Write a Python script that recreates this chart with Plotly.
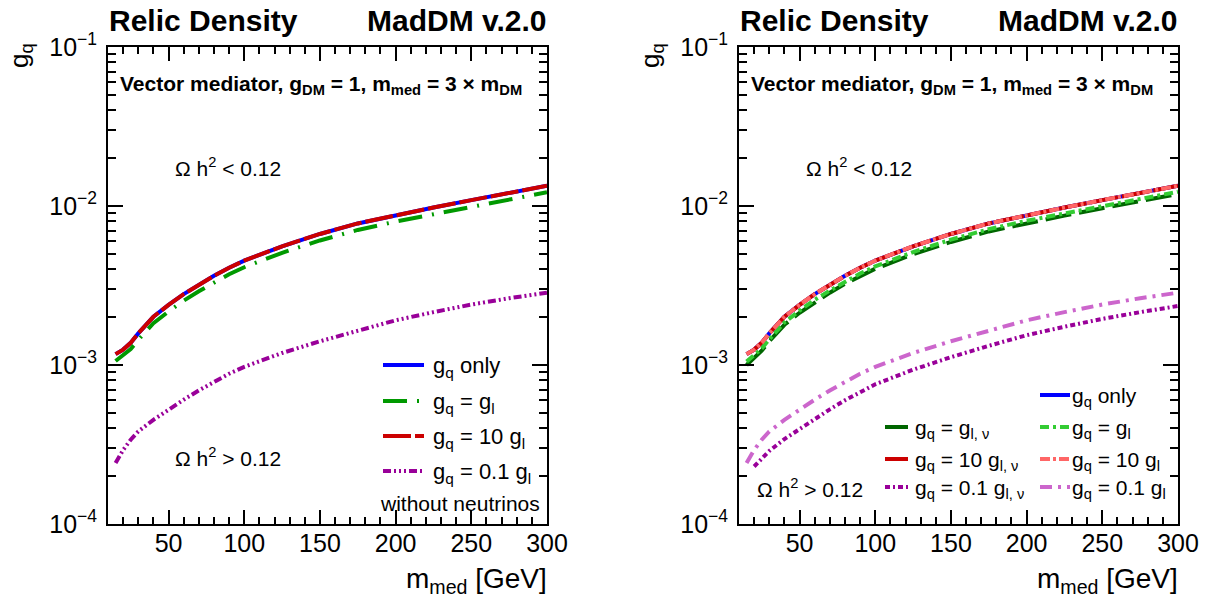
import plotly.graph_objects as go

# ---------------- data ----------------
m_med = [15, 20, 25, 30, 40, 50, 60, 70, 80, 90, 100, 125, 150, 175, 200, 225, 250, 275, 300]

gq_only = [1.17e-3, 1.25e-3, 1.38e-3, 1.58e-3, 2.01e-3, 2.39e-3, 2.79e-3, 3.20e-3, 3.64e-3, 4.09e-3,
           4.53e-3, 5.58e-3, 6.67e-3, 7.77e-3, 8.77e-3, 9.78e-3, 1.089e-2, 1.21e-2, 1.34e-2]
# left panel (without neutrinos)
gq_eq_gl_left = [1.06e-3, 1.15e-3, 1.26e-3, 1.44e-3, 1.83e-3, 2.17e-3, 2.54e-3, 2.91e-3, 3.31e-3, 3.72e-3,
                 4.12e-3, 5.08e-3, 6.07e-3, 7.07e-3, 7.98e-3, 8.90e-3, 9.91e-3, 1.10e-2, 1.22e-2]
gq_10gl = [1.17e-3, 1.25e-3, 1.38e-3, 1.58e-3, 2.01e-3, 2.39e-3, 2.79e-3, 3.20e-3, 3.64e-3, 4.09e-3,
           4.53e-3, 5.58e-3, 6.67e-3, 7.77e-3, 8.77e-3, 9.78e-3, 1.089e-2, 1.21e-2, 1.34e-2]
gq_01gl = [2.42e-4, 2.92e-4, 3.39e-4, 3.82e-4, 4.52e-4, 5.25e-4, 6.05e-4, 6.92e-4, 7.85e-4, 8.81e-4,
           9.73e-4, 1.19e-3, 1.41e-3, 1.65e-3, 1.91e-3, 2.15e-3, 2.40e-3, 2.63e-3, 2.85e-3]
# right panel
gq_eq_gl_right = [1.05e-3, 1.15e-3, 1.27e-3, 1.45e-3, 1.85e-3, 2.20e-3, 2.57e-3, 2.94e-3, 3.35e-3, 3.76e-3,
                  4.17e-3, 5.13e-3, 6.14e-3, 7.15e-3, 8.07e-3, 9.00e-3, 1.00e-2, 1.11e-2, 1.23e-2]
gq_eq_glnu = [1.00e-3, 1.11e-3, 1.23e-3, 1.41e-3, 1.79e-3, 2.13e-3, 2.48e-3, 2.85e-3, 3.24e-3, 3.64e-3,
              4.03e-3, 4.97e-3, 5.94e-3, 6.92e-3, 7.81e-3, 8.70e-3, 9.69e-3, 1.077e-2, 1.19e-2]
gq_10glnu = [1.17e-3, 1.25e-3, 1.38e-3, 1.58e-3, 2.01e-3, 2.39e-3, 2.79e-3, 3.20e-3, 3.64e-3, 4.09e-3,
             4.53e-3, 5.58e-3, 6.67e-3, 7.77e-3, 8.77e-3, 9.78e-3, 1.089e-2, 1.21e-2, 1.34e-2]
m_med_01glnu = [20, 25, 30, 40, 50, 60, 70, 80, 90, 100, 125, 150, 175, 200, 225, 250, 275, 300]
gq_01glnu = [2.30e-4, 2.58e-4, 2.88e-4, 3.42e-4, 3.97e-4, 4.58e-4, 5.26e-4, 6.00e-4, 6.78e-4,
             7.56e-4, 9.35e-4, 1.12e-3, 1.32e-3, 1.54e-3, 1.74e-3, 1.95e-3, 2.15e-3, 2.35e-3]

x_major = [50, 100, 150, 200, 250, 300]
x_minor = [20, 30, 40, 60, 70, 80, 90, 110, 120, 130, 140, 160, 170, 180, 190,
           210, 220, 230, 240, 260, 270, 280, 290]
y_major = [1e-4, 1e-3, 1e-2, 1e-1]
y_major_text = ["10<sup>\u22124</sup>", "10<sup>\u22123</sup>", "10<sup>\u22122</sup>", "10<sup>\u22121</sup>"]
y_minor = [k * 10.0 ** e for e in (-4, -3, -2) for k in range(2, 10)]

W, H = 1214, 603
FONT = "Liberation Sans, Arial, Helvetica, sans-serif"


def px(x):
    return x / W


def py(y):
    return 1 - y / H


fig = go.Figure()

# ---------------- left panel ----------------
left = [
    ("g<sub>q</sub> only", gq_only, m_med, "#0000FF", "solid"),
    ("g<sub>q</sub> = g<sub>l</sub>", gq_eq_gl_left, m_med, "#009900", "24px,10px,2px,10px"),
    ("g<sub>q</sub> = 10 g<sub>l</sub>", gq_10gl, m_med, "#CC0000", "28px,4px"),
    ("g<sub>q</sub> = 0.1 g<sub>l</sub>", gq_01gl, m_med, "#990099", "8px,3px,2px,3px,2px,3px,2px,3px"),
]
for name, yv, xv, col, dash in left:
    fig.add_trace(go.Scatter(x=xv, y=yv, mode="lines", name=name, showlegend=False,
                             line=dict(color=col, width=4, dash=dash), xaxis="x", yaxis="y"))

# ---------------- right panel ----------------
r_only = ("g<sub>q</sub> only", gq_only, m_med, "#0000FF", "solid")
r_glnu = ("g<sub>q</sub> = g<sub>l, \u03bd</sub>", gq_eq_glnu, m_med, "#006600", "26px,8px")
r_gl = ("g<sub>q</sub> = g<sub>l</sub>", gq_eq_gl_right, m_med, "#33CC33", "9px,4px,3px,4px")
r_10glnu = ("g<sub>q</sub> = 10 g<sub>l, \u03bd</sub>", gq_10glnu, m_med, "#CC0000", "28px,4px")
r_10gl = ("g<sub>q</sub> = 10 g<sub>l</sub>", gq_10gl, m_med, "#FF6666", "10px,3px,3px,3px")
r_01gl = ("g<sub>q</sub> = 0.1 g<sub>l</sub>", gq_01gl, m_med, "#CC66CC", "12px,6px,3px,6px")
r_01glnu = ("g<sub>q</sub> = 0.1 g<sub>l, \u03bd</sub>", gq_01glnu, m_med_01glnu, "#990099", "5px,3px,2px,3px")
right = [r_only, r_glnu, r_10glnu, r_gl, r_10gl, r_01gl, r_01glnu]
for name, yv, xv, col, dash in right:
    fig.add_trace(go.Scatter(x=xv, y=yv, mode="lines", name=name, showlegend=False,
                             line=dict(color=col, width=4, dash=dash), xaxis="x2", yaxis="y2"))

# ---------------- axes ----------------
def xaxis(domain, anchor):
    return dict(domain=domain, anchor=anchor, range=[10, 300], tickmode="array", tickvals=x_major,
                ticks="inside", ticklen=14, tickwidth=1.5, tickcolor="black",
                minor=dict(tickmode="array", tickvals=x_minor, ticks="inside", ticklen=7,
                           tickwidth=1.5, tickcolor="black", showgrid=False),
                showline=True, linewidth=2, linecolor="black", mirror="ticks",
                showgrid=False, zeroline=False, ticklabelstandoff=-4, automargin=False,
                tickfont=dict(family=FONT, size=25, color="black"))


def yaxis(domain, anchor):
    return dict(domain=domain, anchor=anchor, type="log", range=[-4, -1], tickmode="array",
                tickvals=y_major, ticktext=y_major_text,
                ticks="inside", ticklen=15, tickwidth=1.5, tickcolor="black",
                minor=dict(tickmode="array", tickvals=y_minor, ticks="inside", ticklen=8,
                           tickwidth=1.5, tickcolor="black", showgrid=False),
                showline=True, linewidth=2, linecolor="black", mirror="ticks",
                showgrid=False, zeroline=False, ticklabelstandoff=4, automargin=False,
                tickfont=dict(family=FONT, size=25, color="black"))


ydom = [py(524), py(47)]
fig.update_layout(
    width=W, height=H, margin=dict(l=0, r=0, t=0, b=0, autoexpand=False),
    paper_bgcolor="white", plot_bgcolor="white", showlegend=False,
    xaxis=xaxis([px(108), px(547)], "y"),
    yaxis=yaxis(ydom, "x"),
    xaxis2=xaxis([px(739), px(1178)], "y2"),
    yaxis2=yaxis(ydom, "x2"),
)

ann = []
shapes = []


def text(x, y, t, size=21, bold=False, xanchor="left", yanchor="middle", angle=0):
    if bold:
        t = "<b>" + t + "</b>"
    ann.append(dict(x=px(x), y=py(y), xref="paper", yref="paper", text=t, showarrow=False,
                    xanchor=xanchor, yanchor=yanchor, textangle=angle, borderpad=0,
                    font=dict(family=FONT, size=size, color="black")))


def sample(x0, x1, y, col, dash):
    shapes.append(dict(type="line", xref="paper", yref="paper", x0=px(x0), x1=px(x1),
                       y0=py(y), y1=py(y), line=dict(color=col, width=4, dash=dash)))


for off in (0, 631):
    text(108 + off, 21, "Relic Density", size=30, bold=True)
    text(548 + off, 21, "MadDM v.2.0", size=30, bold=True, xanchor="right")
    text(119 + off, 85, "Vector mediator, g<sub>DM</sub> = 1, m<sub>med</sub> = 3 \u00d7 m<sub>DM</sub>",
         size=21, bold=True)
    text(174 + off, 167, "\u03a9 h<sup>2</sup> &lt; 0.12", size=21)
    text(548 + off, 580, "m<sub>med</sub> [GeV]", size=28, xanchor="right")
    text(20 + off, 56, "g<sub>q</sub>", size=26, xanchor="center", angle=-90)

text(174, 457, "\u03a9 h<sup>2</sup> &gt; 0.12", size=21)
text(756, 488, "\u03a9 h<sup>2</sup> &gt; 0.12", size=21)

# left legend
for (name, yv, xv, col, dash), yy in zip(left, [365, 401, 436, 471]):
    sample(383, 424, yy, col, dash)
    text(432, yy + 2, name, size=22)
text(541, 503, "without neutrinos", size=21, xanchor="right")

# right legend
col1 = [r_glnu, r_10glnu, r_01glnu]
col2 = [r_only, r_gl, r_10gl, r_01gl]
for (name, yv, xv, col, dash), yy in zip(col1, [427, 459, 487]):
    sample(885, 908, yy, col, dash)
    text(914, yy + 2, name, size=21)
for (name, yv, xv, col, dash), yy in zip(col2, [395, 427, 459, 487]):
    sample(1040, 1070, yy, col, dash)
    text(1071, yy + 2, name, size=21)

fig.update_layout(annotations=ann, shapes=shapes)
fig.write_html("out.html")
